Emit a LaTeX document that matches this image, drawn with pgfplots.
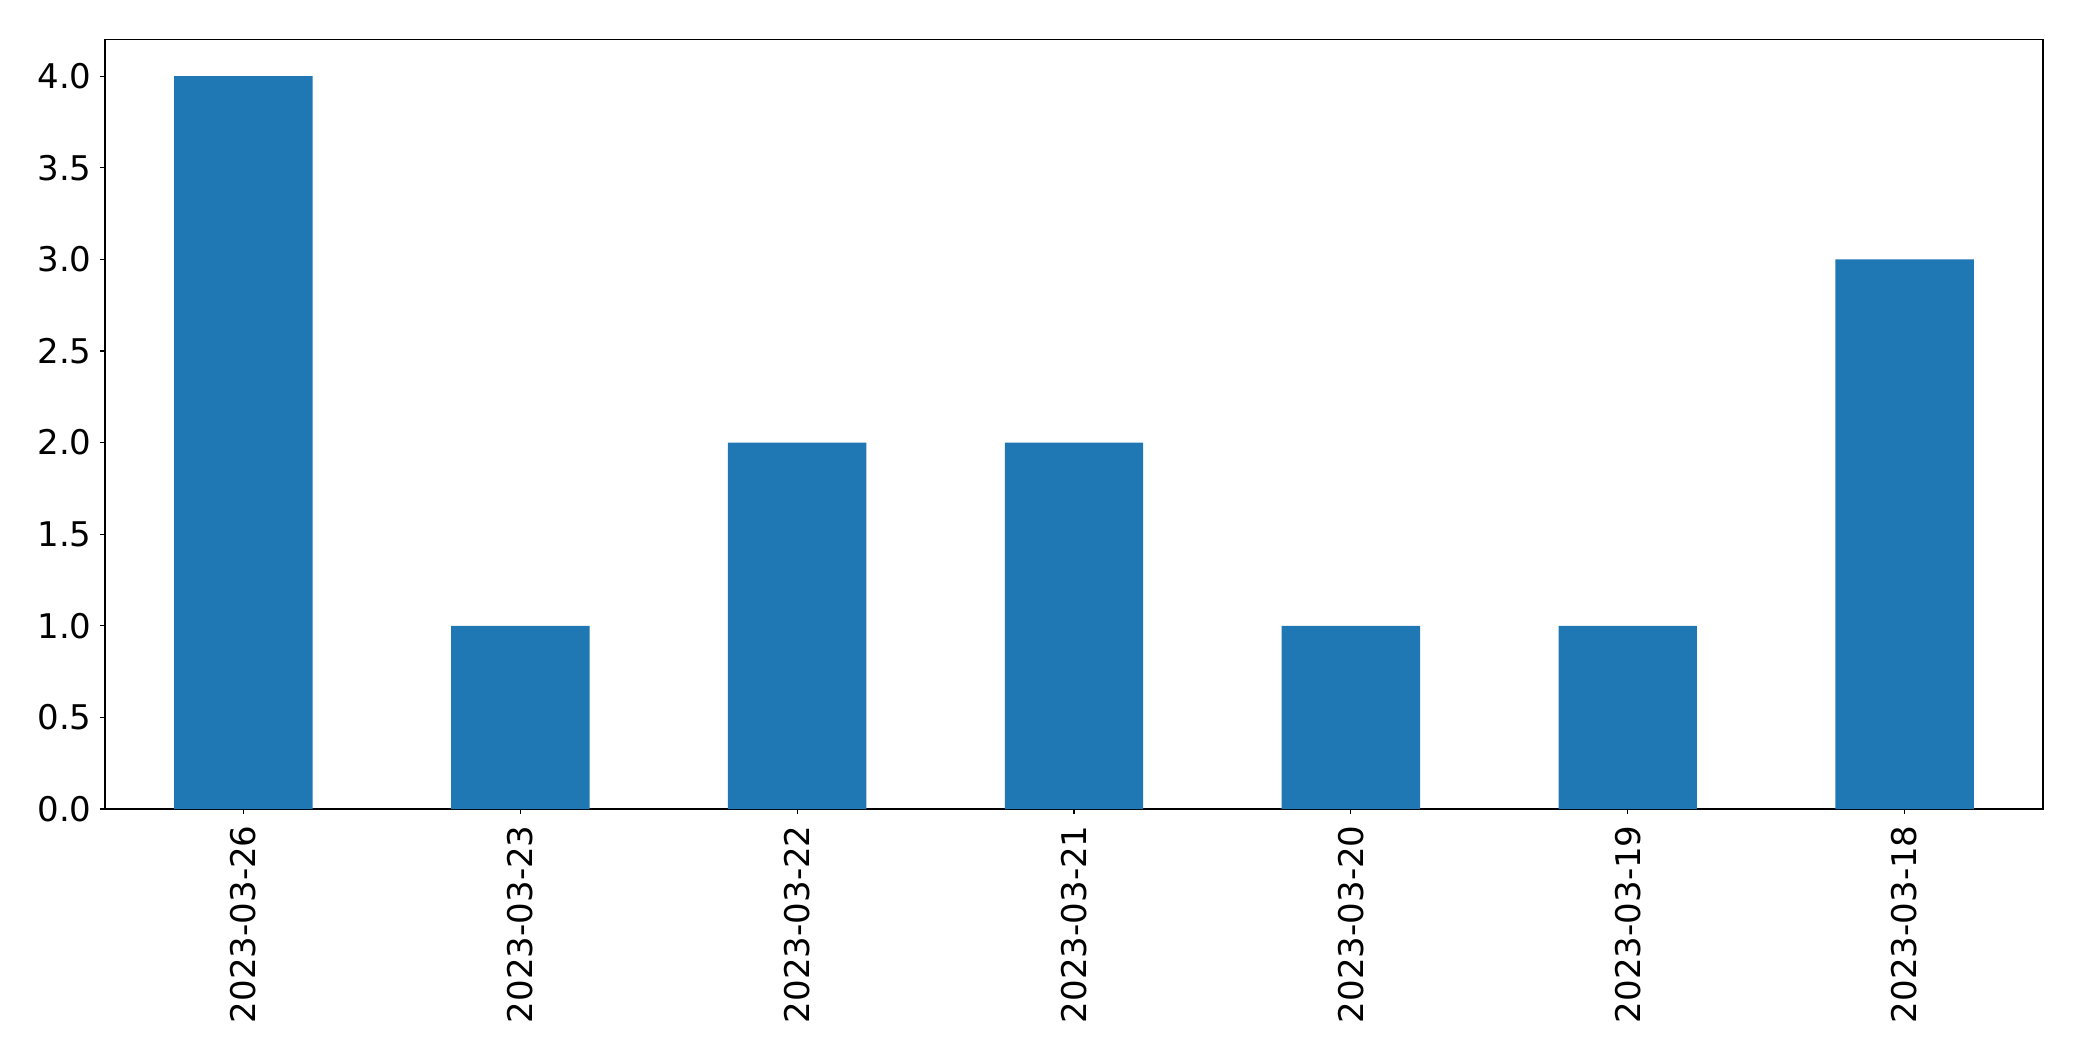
\documentclass[border=0pt]{standalone}
\usepackage{fontspec}
\setmainfont{DejaVu Sans}
\usepackage{pgfplots}
\pgfplotsset{compat=1.18}
\definecolor{mplblue}{HTML}{1F77B4}
\begin{document}
\begin{tikzpicture}
\useasboundingbox (-52.5pt,-126pt) rectangle (988.5pt,404.5pt);
\begin{axis}[
  at={(0pt,0pt)}, anchor=south west,
  scale only axis, width=969pt, height=384.75pt,
  xmin=-0.5, xmax=6.5, ymin=0, ymax=4.2,
  xtick={0,1,2,3,4,5,6},
  xticklabels={2023-03-26,2023-03-23,2023-03-22,2023-03-21,2023-03-20,2023-03-19,2023-03-18},
  x tick label style={rotate=90, anchor=east, inner sep=0pt},
  xticklabel shift=5.5pt,
  ytick={0,0.5,1,1.5,2,2.5,3,3.5,4},
  y tick label style={inner sep=0pt},
  yticklabel shift=4pt,
  yticklabel style={/pgf/number format/.cd, fixed, fixed zerofill, precision=1, assume math mode=true},
  tick align=outside, major tick length=2.5pt,
  tick pos=left,
  axis line style={line width=0.55pt},
  every tick/.style={black, line width=0.55pt},
  font=\fontsize{17}{20}\selectfont,
  ybar,
]
\addplot[fill=mplblue, draw=none, bar width=0.5, bar shift=0pt] coordinates {
  (0,4) (1,1) (2,2) (3,2) (4,1) (5,1) (6,3)
};
\end{axis}
\end{tikzpicture}
\end{document}
